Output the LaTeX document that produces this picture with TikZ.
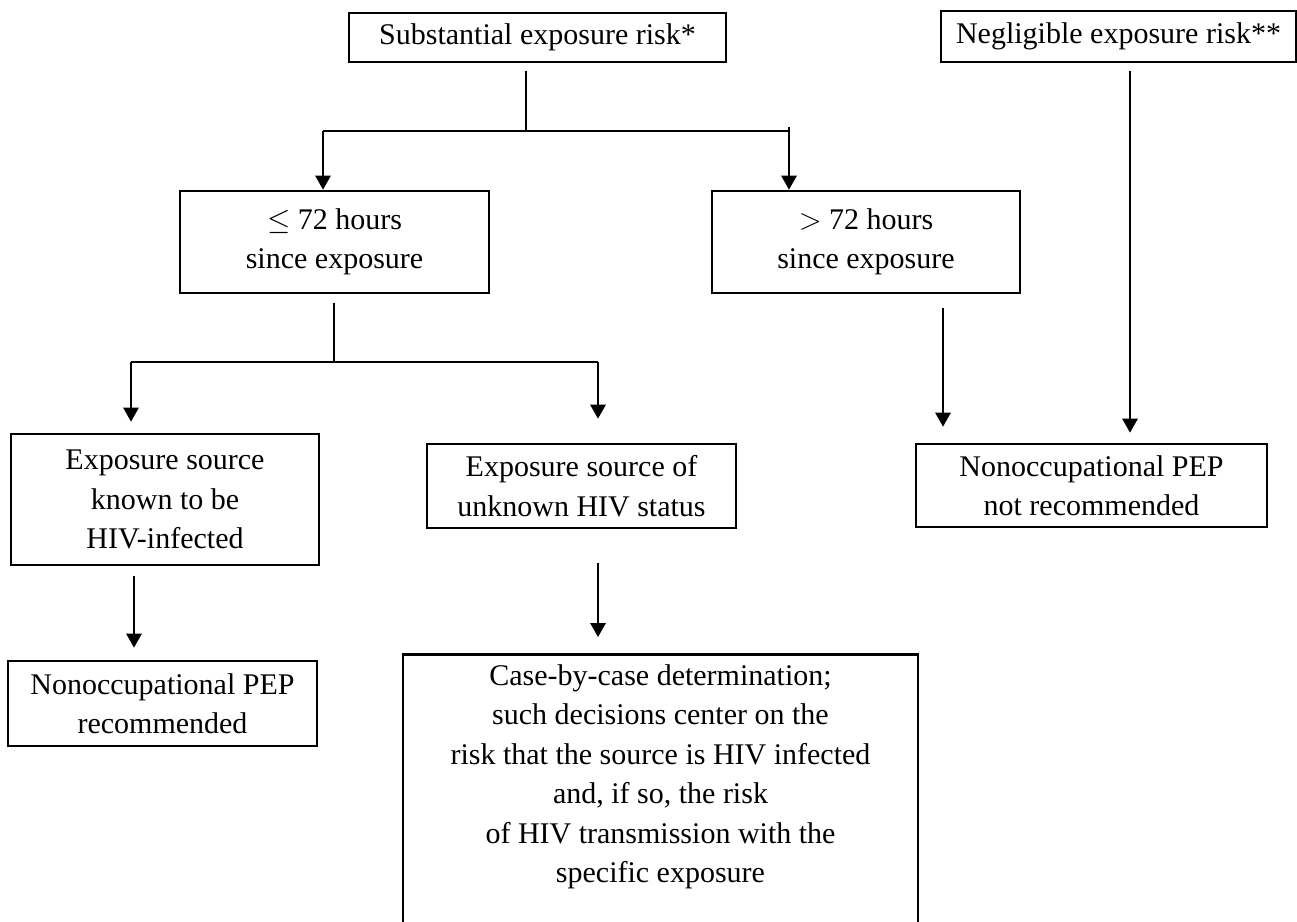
\documentclass[tikz,border=0pt]{standalone}
\usepackage{fontspec}
\setmainfont{Liberation Serif}
\usetikzlibrary{arrows.meta}

\tikzset{
  box/.style={draw, line width=1.1pt, align=center, inner sep=2pt,
    font=\fontsize{12}{15.8}\selectfont},
  link/.style={line width=0.6pt},
  arr/.style={link, -{Triangle[length=5.6pt,width=6.2pt]}},
}

\begin{document}
\begin{tikzpicture}[x=0.4pt,y=-0.4pt]
    \useasboundingbox (0,0) rectangle (1297,921);
    \clip (0,0) rectangle (1297,921);

    % top row
    \node[box,minimum width=150.8pt,minimum height=19.6pt] (sub) at (537.5,37.5) {Substantial exposure risk*};
    \node[box,minimum width=142pt,minimum height=20.4pt] (neg) at (1118.5,36.5) {Negligible exposure risk**};

    % time since exposure
    \node[box,minimum width=123.6pt,minimum height=40.8pt] (le72) at (334.5,242) {$\leq$ 72 hours\\ since exposure};
    \node[box,minimum width=123.2pt,minimum height=40.8pt] (gt72) at (866,242) {$>$ 72 hours\\ since exposure};

    % source status
    \node[box,minimum width=123.2pt,minimum height=52.4pt] (known) at (165,499.5) {Exposure source\\ known to be\\ HIV-infected};
    \node[box,minimum width=123.6pt,minimum height=33.6pt] (unknown) at (581.5,486) {Exposure source of\\ unknown HIV status};
    \node[box,minimum width=140.4pt,minimum height=33.2pt] (notrec) at (1091.5,485.5) {Nonoccupational PEP\\ not recommended};

    % outcomes
    \node[box,minimum width=123.6pt,minimum height=34pt] (rec) at (162.5,703.5) {Nonoccupational PEP\\ recommended};
    \node[box,anchor=north,minimum width=206pt,inner ysep=4pt] (big) at (660.5,653) {Case-by-case determination;\\ such decisions center on the\\ risk that the source is HIV infected\\ and, if so, the risk\\ of HIV transmission with the\\ specific exposure\\ \strut\\ \strut};

    \coordinate (j1) at (526,131);
    \coordinate (c1) at (323,131);
    \coordinate (c2) at (789,127);
    \coordinate (j2) at (334,362);
    \coordinate (c3) at (131,362);
    \coordinate (c4) at (598,362);
    \coordinate (c5) at (943,0);
    \coordinate (c6) at (1130,0);
    \coordinate (c7) at (134,0);

    \draw[link,shorten <=3.2pt] (sub.south -| j1) -- (j1);
    \draw[link] (c1) -- (c1 -| c2);
    \draw[arr] (c1) -- (le72.north -| c1);
    \draw[arr] (c2) -- (gt72.north -| c2);
    \draw[arr,shorten <=3.2pt,shorten >=4pt] (neg.south -| c6) -- (notrec.north -| c6);

    \draw[link,shorten <=3.6pt] (le72.south -| j2) -- (j2);
    \draw[link] (c3) -- (c4);
    \draw[arr,shorten >=4.4pt] (c3) -- (known.north -| c3);
    \draw[arr,shorten >=9.6pt] (c4) -- (unknown.north -| c4);
    \draw[arr,shorten <=5.6pt,shorten >=6.4pt] (gt72.south -| c5) -- (notrec.north -| c5);

    \draw[arr,shorten <=4pt,shorten >=4.8pt] (known.south -| c7) -- (rec.north -| c7);
    \draw[arr,shorten <=13.6pt,shorten >=6.4pt] (unknown.south -| c4) -- (big.north -| c4);
\end{tikzpicture}
\end{document}
